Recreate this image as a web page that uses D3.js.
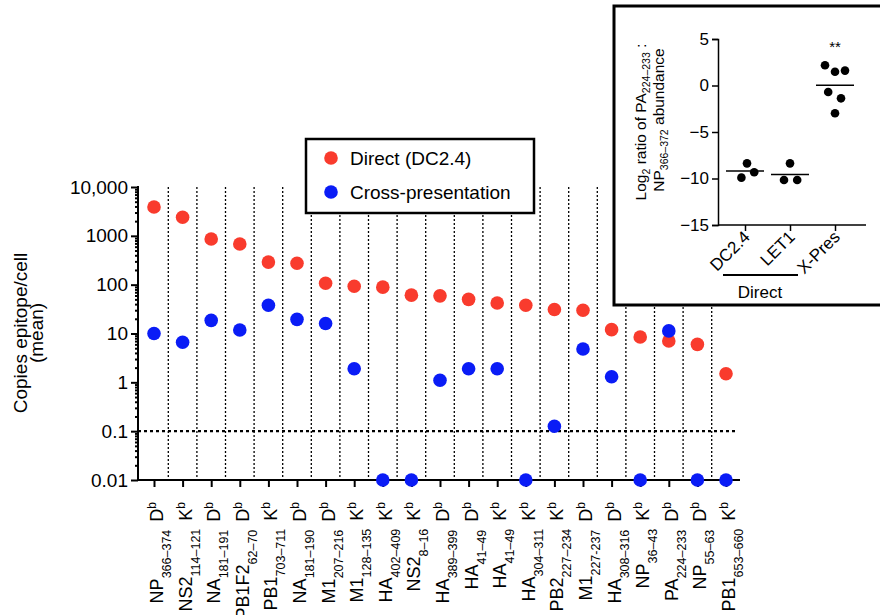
<!DOCTYPE html>
<html lang="en">
<head>
    <meta charset="UTF-8">
    <title>Epitope copies per cell</title>
    <script src="https://cdn.jsdelivr.net/npm/d3@7"></script>
    <style>
        body { margin: 0; background: #fff; }
        svg { font-family: "Liberation Sans", Arial, sans-serif; }
        .axis path, .axis line { stroke: #000; stroke-width: 2px; }
        .axis text { font-family: "Liberation Sans", Arial, sans-serif; fill: #000; }
    </style>
</head>
<body>
    <script>
        // main panel data
        const proteins = ["NP", "NS2", "NA", "PB1F2", "PB1", "NA", "M1", "M1", "HA", "NS2", "HA",
            "HA", "HA", "HA", "PB2", "M1", "HA", "NP", "PA", "NP", "PB1"];
        const residues = ["366–374", "114–121", "181–191", "62–70", "703–711", "181–190", "207–216",
            "128–135", "402–409", "8–16", "389–399", "41–49", "41–49", "304–311", "227–234",
            "227-237", "308–316", "36–43", "224–233", "55–63", "653–660"];
        const alleles = ["D", "K", "D", "D", "K", "D", "D", "K", "K", "K", "D",
            "D", "K", "K", "K", "D", "D", "K", "D", "D", "K"];
        const direct = [3900, 2400, 860, 680, 290, 275, 107, 93, 89, 61, 59,
            50, 42, 38, 31, 30, 12, 8.5, 7, 6, 1.5];
        const crossPres = [10, 6.6, 18.6, 11.8, 38, 19.5, 16, 1.9, 0.01, 0.01, 1.1,
            1.9, 1.9, 0.01, 0.126, 4.8, 1.3, 0.01, 11.3, 0.01, 0.01];
        const yTicks = [0.01, 0.1, 1, 10, 100, 1000, 10000];
        const yTickLabels = ["0.01", "0.1", "1", "10", "100", "1000", "10,000"];
        const threshold = 0.1;

        // inset data
        const insetGroups = ["DC2.4", "LET1", "X-Pres"];
        const dc24Ratio = [-8.37, -9.33, -9.91];
        const let1Ratio = [-8.37, -10.16, -10.16];
        const xPresRatio = [2.17, 1.48, 1.6, -0.7, -1.38, -2.99];
        const insetTicks = [5, 0, -5, -10, -15];
        // horizontal scatter of the dots, in dot radii
        const dc24Jitter = [0.5, 2.3, -0.9];
        const let1Jitter = [0, -1.5, 1.8];
        const xPresJitter = [-2.5, 0, 2.5, -1.7, 1.5, 0];

        const width = 880, height = 615;
        const red = "#f93b2d", blue = "#0a1cf6";

        const svg = d3.select("body").append("svg")
            .attr("width", width)
            .attr("height", height);

        const idx = d3.range(proteins.length);
        const x = d3.scalePoint().domain(idx).range([154, 726]);
        const step = x.step();
        const y = d3.scaleLog().domain([0.01, 10000]).range([480, 187]);
        const axisX0 = 138, axisX1 = 740;

        // dotted separators between epitopes
        svg.append("g").selectAll("line")
            .data(idx.slice(0, -1))
            .enter().append("line")
            .attr("x1", d => x(d) + step / 2)
            .attr("x2", d => x(d) + step / 2)
            .attr("y1", y(10000))
            .attr("y2", y(0.01))
            .attr("stroke", "#000")
            .attr("stroke-width", 1.3)
            .attr("stroke-dasharray", "2,2");

        // detection threshold
        svg.append("line")
            .attr("x1", axisX0).attr("x2", axisX1 - 4)
            .attr("y1", y(threshold)).attr("y2", y(threshold))
            .attr("stroke", "#000")
            .attr("stroke-width", 2.2)
            .attr("stroke-dasharray", "3,3");

        // y axis, major + minor ticks
        const minor = [];
        for (let e = -2; e < 4; e++) {
            for (let k = 2; k < 10; k++) minor.push(k * Math.pow(10, e));
        }
        svg.append("g")
            .attr("class", "axis")
            .attr("transform", `translate(${axisX0},0)`)
            .call(d3.axisLeft(y).tickValues(minor).tickSize(3).tickFormat(""))
            .call(g => g.select(".domain").remove());
        const yAxis = svg.append("g")
            .attr("class", "axis")
            .attr("transform", `translate(${axisX0},0)`)
            .call(d3.axisLeft(y).tickValues(yTicks).tickSize(7).tickPadding(3)
                .tickFormat((d, i) => yTickLabels[i]));
        yAxis.select(".domain").attr("d", `M0,${y(10000) - 1}V${y(0.01)}`);
        yAxis.selectAll("text").attr("font-size", 19);

        // x axis
        const xAxis = svg.append("g")
            .attr("class", "axis")
            .attr("transform", `translate(0,${y(0.01)})`)
            .call(d3.axisBottom(x).tickSize(7).tickFormat(""));
        xAxis.select(".domain").attr("d", `M${axisX0 - 1},0H${axisX1}`);

        // epitope labels, rotated
        const lab = svg.append("g").selectAll("text")
            .data(idx)
            .enter().append("text")
            .attr("transform", d => `translate(${x(d)},502) rotate(-90)`)
            .attr("text-anchor", "end")
            .attr("font-size", 18)
            .attr("dy", 9);
        lab.append("tspan").text(d => proteins[d]);
        lab.append("tspan").attr("font-size", 12.5).attr("dy", 8).text(d => residues[d]);
        lab.append("tspan").attr("dy", -8).attr("dx", 8).text(d => alleles[d]);
        lab.append("tspan").attr("font-size", 12).attr("dy", -7).text("b");

        // y title
        svg.append("text")
            .attr("transform", "translate(27,333) rotate(-90)")
            .attr("text-anchor", "middle")
            .attr("font-size", 19)
            .text("Copies epitope/cell");
        svg.append("text")
            .attr("transform", "translate(43,333) rotate(-90)")
            .attr("text-anchor", "middle")
            .attr("font-size", 19)
            .text("(mean)");

        // dots
        svg.append("g").selectAll("circle")
            .data(idx)
            .enter().append("circle")
            .attr("cx", d => x(d))
            .attr("cy", d => y(direct[d]))
            .attr("r", 6.8)
            .attr("fill", red);
        svg.append("g").selectAll("circle")
            .data(idx)
            .enter().append("circle")
            .attr("cx", d => x(d))
            .attr("cy", d => y(crossPres[d]))
            .attr("r", 6.8)
            .attr("fill", blue);

        // legend
        const legendData = [
            { color: red, label: "Direct (DC2.4)" },
            { color: blue, label: "Cross-presentation" }
        ];
        const legend = svg.append("g").attr("transform", "translate(306,139)");
        legend.append("rect")
            .attr("width", 228).attr("height", 74)
            .attr("fill", "#fff")
            .attr("stroke", "#000")
            .attr("stroke-width", 2.5);
        legend.selectAll("circle")
            .data(legendData)
            .enter().append("circle")
            .attr("cx", 25)
            .attr("cy", (d, i) => 19 + i * 34)
            .attr("r", 6.8)
            .attr("fill", d => d.color);
        legend.selectAll("text")
            .data(legendData)
            .enter().append("text")
            .attr("x", 44)
            .attr("y", (d, i) => 19 + i * 34)
            .attr("dy", "0.35em")
            .attr("font-size", 19)
            .text(d => d.label);

        // inset panel
        const inset = svg.append("g");
        inset.append("rect")
            .attr("x", 614).attr("y", 6)
            .attr("width", 290).attr("height", 299)
            .attr("fill", "#fff")
            .attr("stroke", "#000")
            .attr("stroke-width", 3);

        const ix = d3.scalePoint().domain(insetGroups).range([745, 835]);
        const iy = d3.scaleLinear().domain([-15, 5]).range([225, 39]);

        const iyAxis = inset.append("g")
            .attr("class", "axis")
            .attr("transform", "translate(718,0)")
            .call(d3.axisLeft(iy).tickValues(insetTicks).tickSize(6).tickPadding(3));
        iyAxis.selectAll("text").attr("font-size", 17);
        iyAxis.selectAll("path, line").style("stroke-width", "1.5px");

        const ixAxis = inset.append("g")
            .attr("class", "axis")
            .attr("transform", `translate(0,${iy(-15)})`)
            .call(d3.axisBottom(ix).tickSize(6).tickFormat(""));
        ixAxis.select(".domain").attr("d", "M718,0H866");
        ixAxis.selectAll("path, line").style("stroke-width", "1.5px");

        inset.append("g").selectAll("text")
            .data(insetGroups)
            .enter().append("text")
            .attr("transform", d => `translate(${ix(d) + 6},238) rotate(-45)`)
            .attr("text-anchor", "end")
            .attr("font-size", 17)
            .text(d => d);

        const groups = [
            { name: "DC2.4", values: dc24Ratio, jitter: dc24Jitter },
            { name: "LET1", values: let1Ratio, jitter: let1Jitter },
            { name: "X-Pres", values: xPresRatio, jitter: xPresJitter }
        ];
        const dotR = 4.3;
        groups.forEach(g => {
            inset.append("g").selectAll("circle")
                .data(g.values)
                .enter().append("circle")
                .attr("cx", (d, i) => ix(g.name) + g.jitter[i] * 4)
                .attr("cy", d => iy(d))
                .attr("r", dotR)
                .attr("fill", "#000");
            const m = d3.mean(g.values);
            inset.append("line")
                .attr("x1", ix(g.name) - 19).attr("x2", ix(g.name) + 19)
                .attr("y1", iy(m)).attr("y2", iy(m))
                .attr("stroke", "#000")
                .attr("stroke-width", 1.5);
        });

        inset.append("text")
            .attr("x", ix("X-Pres")).attr("y", 52)
            .attr("text-anchor", "middle")
            .attr("font-size", 15)
            .text("**");

        // Direct bracket
        inset.append("line")
            .attr("x1", 723).attr("x2", 798)
            .attr("y1", 275).attr("y2", 275)
            .attr("stroke", "#000").attr("stroke-width", 2);
        inset.append("text")
            .attr("x", 760).attr("y", 298)
            .attr("text-anchor", "middle")
            .attr("font-size", 17)
            .text("Direct");

        // inset y title
        const t1 = inset.append("text")
            .attr("transform", "translate(646,122) rotate(-90)")
            .attr("text-anchor", "middle")
            .attr("font-size", 15.5);
        t1.append("tspan").text("Log");
        t1.append("tspan").attr("font-size", 10.5).attr("dy", 4).text("2");
        t1.append("tspan").attr("dy", -4).text(" ratio of PA");
        t1.append("tspan").attr("font-size", 10.5).attr("dy", 4).text("224–233");
        t1.append("tspan").attr("dy", -4).text(" :");
        const t2 = inset.append("text")
            .attr("transform", "translate(664,120) rotate(-90)")
            .attr("text-anchor", "middle")
            .attr("font-size", 15.5);
        t2.append("tspan").text("NP");
        t2.append("tspan").attr("font-size", 10.5).attr("dy", 4).text("366–372");
        t2.append("tspan").attr("dy", -4).text(" abundance");
    </script>
</body>
</html>
